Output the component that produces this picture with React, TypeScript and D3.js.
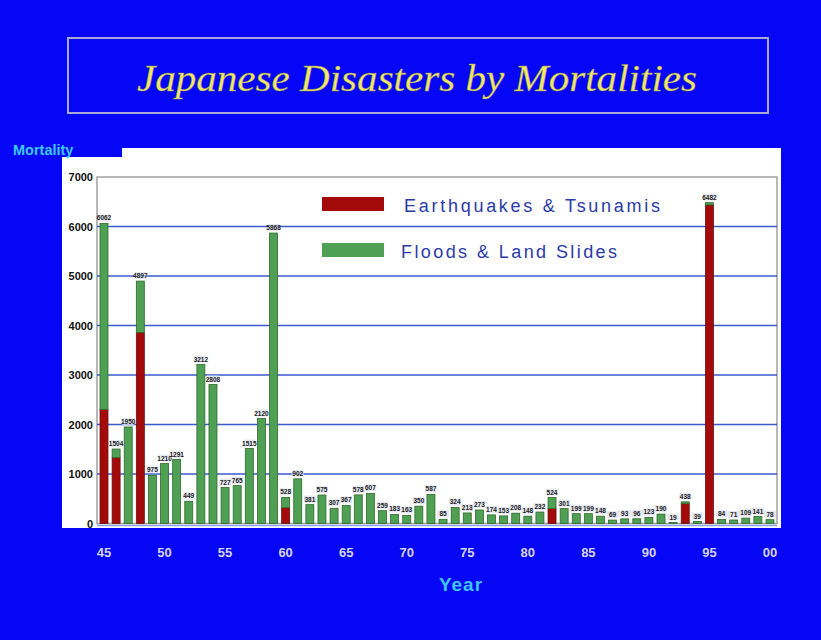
import React from "react";
import * as d3 from "d3";

const years: number[] = d3.range(1945, 2001);
const quakeDeaths: number[] = [
  2306, 1330, 0, 3860, 0, 0, 0, 0, 0, 0, 0, 0, 0, 0, 0, 320, 0, 0, 0, 0,
  0, 0, 0, 0, 0, 0, 0, 0, 0, 0, 0, 0, 0, 0, 0, 0, 0, 300, 0, 0,
  0, 0, 0, 0, 0, 0, 0, 0, 400, 0, 6434, 0, 0, 0, 0, 0,
];
const floodDeaths: number[] = [
  3756, 174, 1950, 1037, 975, 1210, 1291, 449, 3212, 2808, 727, 765, 1515, 2120, 5868, 208, 902, 381, 575, 307,
  367, 578, 607, 259, 183, 163, 350, 587, 85, 324, 213, 273, 174, 153, 208, 148, 232, 224, 301, 199,
  199, 148, 69, 93, 96, 123, 190, 19, 38, 39, 48, 84, 71, 109, 141, 78,
];
const yTicks: number[] = [0, 1000, 2000, 3000, 4000, 5000, 6000, 7000];
const xTickYears: number[] = [1945, 1950, 1955, 1960, 1965, 1970, 1975, 1980, 1985, 1990, 1995, 2000];
const legendItems: { label: string; color: string; width: number }[] = [
  { label: "Earthquakes & Tsunamis", color: "#a50a0a", width: 256 },
  { label: "Floods & Land Slides", color: "#4f9f55", width: 216 },
];

const W = 821;
const H = 640;
const BG = "#0606f6";

export default function App() {
  const plotL = 97, plotR = 777, plotT = 177, plotB = 523.5;
  const x = d3.scaleLinear().domain([1945, 2000]).range([104, 770]);
  const y = d3.scaleLinear().domain([0, 7000]).range([plotB, plotT]);
  const bw = 8;

  const totals = years.map((_, i) => quakeDeaths[i] + floodDeaths[i]);

  return (
    <svg
      width={W}
      height={H}
      style={{ position: "absolute", left: 0, top: 0 }}
      fontFamily="Arial, 'Liberation Sans', sans-serif"
    >
      <rect x={0} y={0} width={W} height={H} fill={BG} />
      {/* title */}
      <rect x={68} y={38} width={700} height={75} fill="none" stroke="#a9a9d8" strokeWidth={2} />
      <text
        x={417}
        y={91}
        textAnchor="middle"
        fontFamily="'Times New Roman', 'Liberation Serif', serif"
        fontStyle="italic"
        fontSize={37}
        fill="#f2e866"
        stroke="#8a8a60"
        strokeWidth={0.4}
        textLength={560}
        lengthAdjust="spacingAndGlyphs"
      >
        Japanese Disasters by Mortalities
      </text>

      {/* white panel */}
      <rect x={62} y={148} width={719} height={380} fill="#ffffff" />
      <rect x={0} y={130} width={122} height={27} fill={BG} />
      <text x={13} y={155} fontSize={14.5} fontWeight="bold" fill="#3cc8ff">
        Mortality
      </text>

      {/* plot frame */}
      <rect x={plotL} y={plotT} width={plotR - plotL} height={plotB - plotT} fill="none" stroke="#a0a0a0" strokeWidth={1.5} />
      {/* gridlines */}
      {yTicks.filter((t) => t > 0 && t < 7000).map((t) => (
        <line key={t} x1={plotL} x2={plotR} y1={y(t)} y2={y(t)} stroke="#3a5ad0" strokeWidth={1.5} />
      ))}
      <line x1={plotL} x2={plotR} y1={plotB + 2} y2={plotB + 2} stroke="#8fa0f0" strokeWidth={1.5} />

      {/* y tick labels */}
      {yTicks.map((t) => (
        <text key={t} x={93} y={y(t) + 4} textAnchor="end" fontSize={11} fontWeight="bold" fill="#111">
          {t}
        </text>
      ))}

      {/* bars */}
      {years.map((yr, i) => {
        const cx = x(yr);
        const q = quakeDeaths[i];
        const f = floodDeaths[i];
        return (
          <g key={yr}>
            {q > 0 && (
              <rect x={cx - bw / 2} y={y(q)} width={bw} height={y(0) - y(q)} fill="#a50a0a" stroke="#6a1010" strokeWidth={0.8} />
            )}
            {f > 0 && (
              <rect x={cx - bw / 2} y={y(q + f)} width={bw} height={y(q) - y(q + f)} fill="#4f9f55" stroke="#2f6a2a" strokeWidth={0.8} />
            )}
          </g>
        );
      })}

      {/* value labels */}
      {years.map((yr, i) => {
        const cx = x(yr);
        const ty = y(totals[i]) - 3;
        return (
          <g key={"l" + yr}>
            <rect x={cx - 6} y={ty - 6} width={12} height={7} fill="#dfe2ee" opacity={0.8} />
            <text x={cx} y={ty} textAnchor="middle" fontSize={6.5} fontWeight="bold" fill="#222">
              {totals[i]}
            </text>
          </g>
        );
      })}

      {/* legend */}
      {legendItems.map((d, i) => (
        <g key={d.label}>
          <rect x={322} y={197 + i * 46} width={62} height={14} fill={d.color} />
          <text x={404 - i * 3} y={212 + i * 46} fontSize={18} fill="#2a3aa8" textLength={d.width} lengthAdjust="spacing">
            {d.label}
          </text>
        </g>
      ))}

      {/* x tick labels */}
      {xTickYears.map((yr) => (
        <text key={yr} x={x(yr)} y={557} textAnchor="middle" fontSize={13} fontWeight="bold" fill="#d4d4ea">
          {String(yr % 100).padStart(2, "0")}
        </text>
      ))}
      <text x={461} y={591} textAnchor="middle" fontSize={19} fontWeight="bold" fill="#3cc8ff" letterSpacing={1}>
        Year
      </text>
    </svg>
  );
}
